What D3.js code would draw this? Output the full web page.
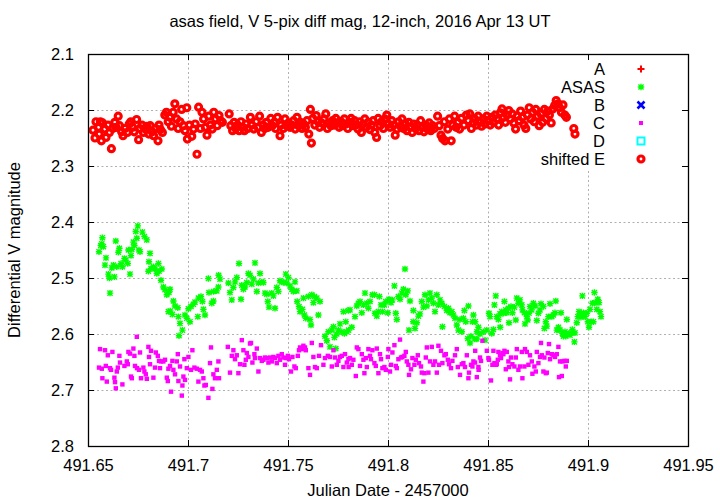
<!DOCTYPE html>
<html><head><meta charset="utf-8">
<script src="https://cdn.jsdelivr.net/npm/d3@7"></script>
<style>body{margin:0;background:#fff}svg{display:block}text{font-family:"Liberation Sans",Arial,sans-serif}</style>
</head><body><svg id="c" width="720" height="504"></svg>
<script>
const titleText = "asas field, V 5-pix diff mag, 12-inch, 2016 Apr 13 UT";
const xLabel = "Julian Date - 2457000";
const yLabel = "Differential V magnitude";
const xTicks = [491.65, 491.7, 491.75, 491.8, 491.85, 491.9, 491.95];
const xTickLabels = ["491.65", "491.7", "491.75", "491.8", "491.85", "491.9", "491.95"];
const yTicks = [2.1, 2.2, 2.3, 2.4, 2.5, 2.6, 2.7, 2.8];
const yTickLabels = ["2.1", "2.2", "2.3", "2.4", "2.5", "2.6", "2.7", "2.8"];
const seriesNames = ["A", "ASAS", "B", "C", "D", "shifted E"];
const seriesColors = ["#ff0000", "#00ff00", "#0000ff", "#ff00ff", "#00ffff", "#ff0000"];

// ASAS (green)
const asasJD = [491.6555,491.6564,491.6572,491.6569,491.6577,491.659,491.6585,491.6602,491.6607,491.661,491.6619,491.6627,491.6632,491.6639,491.6644,491.6652,491.6657,491.6665,491.6672,491.6682,491.6689,491.6699,491.6702,491.671,491.6715,491.6719,491.6727,491.6732,491.6739,491.6744,491.6749,491.6755,491.676,491.6772,491.6782,491.6794,491.681,491.6805,491.6802,491.6815,491.6827,491.6835,491.6844,491.6852,491.6855,491.6869,491.6865,491.6877,491.6885,491.6894,491.691,491.6905,491.6927,491.6935,491.6911,491.6902,491.6922,491.6952,491.6949,491.696,491.6972,491.6955,491.6985,491.6994,491.7002,491.701,491.7015,491.7027,491.7035,491.7052,491.7065,491.7072,491.7049,491.7077,491.7085,491.7102,491.7119,491.7127,491.7105,491.7128,491.7144,491.7152,491.7153,491.716,491.7202,491.721,491.7219,491.7227,491.7235,491.7244,491.7255,491.7265,491.7269,491.7277,491.7285,491.7294,491.7302,491.731,491.7319,491.7327,491.7335,491.7344,491.7352,491.736,491.7369,491.7377,491.7385,491.7394,491.7399,491.7405,491.7419,491.7427,491.7435,491.7444,491.7452,491.746,491.7469,491.7477,491.7489,491.7494,491.7502,491.751,491.7519,491.7527,491.7535,491.7544,491.7546,491.7555,491.756,491.7572,491.7577,491.7582,491.7589,491.7602,491.761,491.7615,491.7619,491.7627,491.7632,491.7644,491.7652,491.766,491.7685,491.7694,491.7702,491.771,491.7719,491.7727,491.7732,491.7739,491.7744,491.7752,491.776,491.7769,491.7777,491.7782,491.7789,491.7794,491.7802,491.7803,491.781,491.7819,491.7835,491.7844,491.7852,491.786,491.7869,491.7877,491.7885,491.7894,491.7902,491.791,491.7922,491.7932,491.7935,491.7944,491.7952,491.7957,491.7965,491.7972,491.7982,491.7989,491.7999,491.8005,491.8015,491.8022,491.8032,491.8039,491.8044,491.8052,491.806,491.8069,491.8077,491.8085,491.8089,491.8099,491.8105,491.811,491.8127,491.8135,491.8126,491.8144,491.8152,491.816,491.8169,491.8177,491.8185,491.8194,491.8202,491.821,491.8219,491.8227,491.8235,491.8244,491.8252,491.826,491.8269,491.8272,491.8282,491.8294,491.8302,491.831,491.8319,491.8327,491.8335,491.8344,491.8352,491.836,491.8369,491.8377,491.8382,491.8389,491.8399,491.8402,491.841,491.8415,491.8422,491.8427,491.8435,491.8444,491.8452,491.8436,491.8445,491.846,491.8477,491.8485,491.8494,491.8505,491.851,491.8519,491.8527,491.8532,491.8539,491.8544,491.8552,491.856,491.8561,491.8569,491.8577,491.8582,491.8589,491.8594,491.8602,491.8605,491.8615,491.8622,491.8632,491.8639,491.8644,491.8652,491.866,491.8669,491.8672,491.8682,491.8685,491.8694,491.8699,491.8705,491.871,491.8719,491.8727,491.8735,491.8744,491.8752,491.876,491.8765,491.8777,491.8782,491.8789,491.8794,491.8802,491.881,491.8819,491.8827,491.8835,491.8839,491.8844,491.8852,491.886,491.8865,491.8872,491.8877,491.8885,491.8889,491.8894,491.8902,491.891,491.8919,491.8922,491.8932,491.8935,491.8944,491.8949,491.8955,491.896,491.8965,491.8972,491.8977,491.8985,491.8994,491.8999,491.9005,491.901,491.9015,491.9022,491.9027,491.9032,491.9039,491.9044,491.9049,491.9055,491.906,491.9065];
const asasMag = [2.453,2.442,2.428,2.439,2.444,2.464,2.477,2.493,2.500,2.527,2.482,2.477,2.498,2.434,2.480,2.454,2.447,2.474,2.480,2.465,2.468,2.474,2.450,2.493,2.460,2.449,2.436,2.442,2.417,2.429,2.407,2.450,2.453,2.418,2.426,2.432,2.456,2.471,2.488,2.483,2.480,2.484,2.492,2.474,2.488,2.484,2.504,2.516,2.521,2.530,2.520,2.526,2.541,2.550,2.559,2.560,2.565,2.569,2.553,2.581,2.593,2.603,2.566,2.572,2.555,2.578,2.551,2.547,2.543,2.536,2.533,2.542,2.569,2.556,2.566,2.501,2.545,2.541,2.526,2.524,2.523,2.516,2.495,2.502,2.509,2.526,2.539,2.517,2.507,2.499,2.474,2.538,2.513,2.520,2.516,2.508,2.492,2.495,2.511,2.502,2.473,2.524,2.509,2.492,2.507,2.508,2.527,2.529,2.542,2.552,2.527,2.532,2.554,2.517,2.524,2.505,2.507,2.508,2.493,2.509,2.499,2.514,2.520,2.524,2.507,2.523,2.542,2.551,2.560,2.556,2.536,2.566,2.572,2.533,2.574,2.584,2.530,2.544,2.533,2.536,2.566,2.542,2.604,2.612,2.596,2.623,2.593,2.587,2.606,2.626,2.600,2.593,2.582,2.596,2.560,2.599,2.578,2.596,2.558,2.593,2.557,2.588,2.569,2.550,2.545,2.542,2.562,2.548,2.527,2.545,2.554,2.542,2.530,2.530,2.563,2.568,2.560,2.533,2.548,2.560,2.548,2.542,2.562,2.538,2.544,2.539,2.514,2.563,2.574,2.533,2.538,2.527,2.520,2.484,2.530,2.523,2.593,2.541,2.558,2.590,2.578,2.580,2.568,2.564,2.542,2.552,2.530,2.550,2.539,2.527,2.536,2.545,2.560,2.530,2.548,2.539,2.545,2.587,2.551,2.558,2.554,2.562,2.560,2.566,2.572,2.584,2.593,2.574,2.596,2.572,2.558,2.578,2.608,2.550,2.616,2.604,2.578,2.566,2.609,2.609,2.588,2.578,2.596,2.600,2.596,2.611,2.593,2.563,2.569,2.599,2.592,2.548,2.532,2.569,2.574,2.564,2.588,2.560,2.563,2.542,2.557,2.562,2.554,2.580,2.551,2.562,2.552,2.575,2.536,2.545,2.539,2.548,2.557,2.562,2.582,2.569,2.575,2.563,2.551,2.557,2.545,2.550,2.576,2.563,2.557,2.546,2.551,2.590,2.578,2.586,2.569,2.546,2.569,2.566,2.562,2.541,2.593,2.588,2.593,2.562,2.599,2.604,2.596,2.604,2.574,2.599,2.602,2.598,2.592,2.614,2.598,2.580,2.569,2.560,2.566,2.570,2.532,2.562,2.569,2.563,2.578,2.588,2.556,2.578,2.545,2.578,2.526,2.544,2.556,2.538,2.544,2.560,2.569];

// C (magenta)
const cJD = [491.6744,491.656,491.6585,491.6622,491.6599,491.6555,491.6569,491.6589,491.661,491.6615,491.6572,491.6594,491.6632,491.6635,491.6639,491.6649,491.6644,491.666,491.6657,491.6672,491.6682,491.6694,491.6699,491.6702,491.671,491.6719,491.6715,491.6727,491.6732,491.6735,491.6745,491.6755,491.676,491.6765,491.6777,491.6782,491.6789,491.6794,491.6802,491.6805,491.681,491.6815,491.6827,491.6835,491.6839,491.6849,491.6855,491.686,491.6865,491.6877,491.6885,491.6894,491.6899,491.6902,491.691,491.6915,491.6922,491.6927,491.6935,491.6944,491.6949,491.6952,491.696,491.6969,491.6972,491.6977,491.6982,491.6985,491.6994,491.7002,491.7015,491.7022,491.7032,491.7044,491.7052,491.706,491.7069,491.7077,491.7082,491.7089,491.7102,491.711,491.7115,491.7122,491.7127,491.7135,491.7144,491.7152,491.7155,491.7199,491.721,491.7219,491.7227,491.7235,491.7244,491.7252,491.726,491.7269,491.7277,491.7282,491.7289,491.7294,491.7302,491.731,491.7315,491.7322,491.7332,491.7335,491.7344,491.7352,491.736,491.7369,491.7377,491.7385,491.7394,491.7402,491.741,491.7419,491.7427,491.7435,491.7444,491.7452,491.746,491.7469,491.7477,491.7485,491.7489,491.7499,491.7505,491.7515,491.7522,491.7532,491.7539,491.7549,491.7555,491.756,491.7572,491.7577,491.7585,491.7589,491.7602,491.761,491.7619,491.7627,491.7635,491.7644,491.7655,491.7665,491.7677,491.7685,491.7699,491.771,491.7719,491.7727,491.7735,491.7744,491.7752,491.776,491.7769,491.7777,491.7785,491.7794,491.7802,491.7803,491.781,491.7819,491.7827,491.7839,491.7844,491.7852,491.786,491.7869,491.7877,491.7882,491.7889,491.7894,491.7902,491.791,491.7915,491.7922,491.7932,491.7939,491.7944,491.7952,491.796,491.7965,491.7972,491.7982,491.7989,491.7999,491.8002,491.801,491.8015,491.8022,491.8032,491.8039,491.8044,491.8052,491.806,491.8065,491.8072,491.8082,491.8089,491.8094,491.8102,491.8105,491.8115,491.8122,491.8132,491.8139,491.8149,491.8155,491.8165,491.8169,491.8177,491.8182,491.8189,491.8194,491.8202,491.821,491.8219,491.8227,491.8235,491.8244,491.8252,491.8255,491.8265,491.8272,491.8282,491.8289,491.8299,491.8305,491.8315,491.8322,491.8335,491.8344,491.8349,491.836,491.8369,491.8377,491.8385,491.8394,491.8402,491.8405,491.8415,491.8422,491.8427,491.8435,491.8444,491.8452,491.8436,491.8453,491.846,491.8465,491.8472,491.8494,491.8502,491.8505,491.8515,491.8522,491.8527,491.8532,491.8539,491.8544,491.8549,491.8552,491.856,491.8565,491.8572,491.8577,491.8582,491.8589,491.8594,491.8602,491.8605,491.861,491.8615,491.8622,491.8632,491.8639,491.8644,491.8652,491.866,491.8669,491.8672,491.8682,491.8685,491.8694,491.8702,491.871,491.8719,491.8722,491.8732,491.8739,491.8744,491.8752,491.876,491.8765,491.8769,491.8777,491.8782,491.8789,491.8794,491.8799,491.8805,491.881,491.8819,491.8827,491.8835,491.8844,491.8852,491.8855,491.886,491.8869,491.8872,491.8882,491.8889,491.8894];
const cMag = [2.605,2.627,2.629,2.632,2.638,2.660,2.662,2.657,2.661,2.664,2.679,2.685,2.678,2.686,2.697,2.660,2.667,2.651,2.639,2.690,2.657,2.649,2.654,2.632,2.635,2.679,2.676,2.626,2.639,2.657,2.661,2.664,2.633,2.679,2.660,2.667,2.672,2.680,2.623,2.641,2.654,2.630,2.678,2.660,2.633,2.639,2.648,2.661,2.649,2.649,2.646,2.678,2.684,2.662,2.657,2.703,2.648,2.664,2.672,2.649,2.636,2.684,2.658,2.710,2.692,2.676,2.645,2.682,2.661,2.641,2.664,2.629,2.660,2.662,2.685,2.664,2.667,2.679,2.692,2.691,2.714,2.652,2.624,2.698,2.672,2.679,2.664,2.649,2.679,2.623,2.669,2.639,2.629,2.645,2.638,2.670,2.654,2.611,2.629,2.655,2.646,2.634,2.641,2.617,2.616,2.651,2.636,2.643,2.626,2.667,2.643,2.648,2.646,2.642,2.643,2.651,2.642,2.649,2.641,2.643,2.652,2.639,2.646,2.636,2.642,2.655,2.643,2.639,2.645,2.667,2.641,2.658,2.661,2.639,2.629,2.624,2.627,2.621,2.624,2.629,2.661,2.673,2.616,2.641,2.659,2.661,2.639,2.620,2.655,2.643,2.639,2.641,2.658,2.629,2.642,2.655,2.648,2.641,2.639,2.659,2.636,2.651,2.645,2.659,2.643,2.655,2.646,2.675,2.624,2.627,2.657,2.636,2.646,2.670,2.643,2.659,2.627,2.639,2.645,2.629,2.652,2.657,2.626,2.670,2.636,2.645,2.661,2.659,2.664,2.641,2.627,2.667,2.655,2.633,2.620,2.657,2.661,2.645,2.610,2.642,2.641,2.639,2.632,2.649,2.655,2.673,2.663,2.643,2.655,2.646,2.638,2.652,2.658,2.669,2.685,2.670,2.642,2.624,2.669,2.649,2.623,2.655,2.649,2.669,2.621,2.655,2.630,2.652,2.638,2.636,2.646,2.654,2.661,2.648,2.638,2.627,2.659,2.673,2.654,2.652,2.659,2.638,2.679,2.669,2.655,2.658,2.649,2.651,2.677,2.659,2.630,2.664,2.642,2.648,2.612,2.630,2.643,2.646,2.683,2.655,2.630,2.652,2.655,2.654,2.646,2.632,2.638,2.643,2.634,2.636,2.630,2.663,2.632,2.649,2.659,2.681,2.642,2.654,2.658,2.642,2.627,2.664,2.658,2.632,2.679,2.658,2.627,2.632,2.655,2.638,2.649,2.671,2.658,2.667,2.632,2.652,2.641,2.616,2.638,2.667,2.642,2.670,2.669,2.634,2.618,2.645,2.636,2.638,2.641,2.636,2.623,2.677,2.649,2.675,2.649,2.648,2.658,2.648];

// shifted E (red)
const eJD = [491.6525,491.6535,491.654,491.6553,491.6556,491.6562,491.6567,491.6573,491.6584,491.659,491.66,491.6607,491.6617,491.6624,491.6634,491.6641,491.6651,491.6658,491.6668,491.6675,491.6685,491.6697,491.6706,491.6714,491.6723,491.6731,491.6743,491.6753,491.676,491.677,491.6777,491.6787,491.6794,491.6804,491.6811,491.6821,491.6828,491.6838,491.685,491.6855,491.6862,491.6872,491.6884,491.6892,491.6901,491.6909,491.6917,491.6926,491.6934,491.6943,491.6951,491.696,491.6968,491.6977,491.6985,491.6994,491.6997,491.7007,491.7019,491.7028,491.7036,491.7045,491.7053,491.7062,491.707,491.7078,491.7087,491.7095,491.7104,491.7112,491.7121,491.7129,491.7138,491.7146,491.7155,491.7163,491.7172,491.7206,491.7214,491.7223,491.7231,491.7239,491.7248,491.7256,491.7265,491.7273,491.7282,491.729,491.7299,491.7312,491.7319,491.7329,491.7341,491.735,491.7358,491.7367,491.7375,491.7384,491.7392,491.7401,491.7414,491.7421,491.7431,491.7438,491.7448,491.746,491.7465,491.7477,491.7485,491.7494,491.7502,491.7511,491.7519,491.7528,491.7536,491.7545,491.7553,491.7562,491.757,491.7578,491.7587,491.7595,491.7604,491.7612,491.7617,491.7624,491.7634,491.7641,491.7651,491.7658,491.7668,491.768,491.7689,491.7697,491.7706,491.7714,491.7723,491.7731,491.7739,491.7748,491.7756,491.7765,491.7773,491.7782,491.779,491.7799,491.7807,491.7816,491.7824,491.7833,491.7841,491.785,491.7858,491.7867,491.7875,491.7884,491.7892,491.7901,491.7909,491.7917,491.7926,491.7934,491.7943,491.7951,491.796,491.7968,491.7977,491.7985,491.7994,491.8002,491.8011,491.8019,491.8028,491.8036,491.8045,491.8053,491.8062,491.807,491.8078,491.8087,491.8095,491.8104,491.8112,491.8121,491.8129,491.8138,491.8146,491.8155,491.8163,491.8172,491.818,491.8189,491.8197,491.8206,491.8214,491.8223,491.8231,491.8248,491.8256,491.8265,491.8273,491.8282,491.8285,491.8299,491.8307,491.8316,491.8324,491.8333,491.8341,491.835,491.8358,491.8367,491.838,491.8392,491.8401,491.8409,491.8417,491.8426,491.8434,491.8443,491.8451,491.846,491.8468,491.8477,491.8485,491.8494,491.8502,491.8511,491.8519,491.8528,491.8536,491.8545,491.8553,491.8562,491.857,491.8578,491.8587,491.8595,491.8604,491.8612,491.8621,491.8629,491.8638,491.8646,491.8655,491.8663,491.8672,491.868,491.8689,491.8697,491.8706,491.8714,491.8723,491.8731,491.8739,491.8748,491.8756,491.8765,491.8773,491.8782,491.879,491.8799,491.8807,491.8816,491.8824,491.8833,491.8841,491.885,491.8858,491.8867,491.8875,491.8884,491.8892,491.8929,491.8935];
const eMag = [2.236,2.250,2.221,2.231,2.243,2.221,2.255,2.223,2.234,2.249,2.227,2.240,2.269,2.233,2.222,2.231,2.211,2.228,2.239,2.246,2.233,2.240,2.225,2.221,2.231,2.239,2.217,2.253,2.233,2.227,2.240,2.234,2.229,2.243,2.228,2.239,2.246,2.233,2.255,2.227,2.235,2.240,2.209,2.204,2.221,2.213,2.229,2.204,2.189,2.216,2.233,2.221,2.199,2.228,2.237,2.196,2.252,2.227,2.247,2.234,2.225,2.279,2.195,2.233,2.204,2.216,2.231,2.245,2.211,2.227,2.234,2.204,2.216,2.228,2.210,2.219,2.222,2.207,2.228,2.237,2.222,2.233,2.227,2.237,2.221,2.231,2.237,2.225,2.233,2.213,2.227,2.234,2.221,2.231,2.211,2.240,2.227,2.233,2.222,2.231,2.215,2.228,2.222,2.233,2.213,2.246,2.227,2.233,2.216,2.228,2.223,2.231,2.227,2.219,2.234,2.213,2.228,2.222,2.233,2.225,2.231,2.219,2.243,2.199,2.259,2.215,2.227,2.210,2.221,2.231,2.223,2.216,2.207,2.233,2.223,2.228,2.219,2.227,2.215,2.223,2.231,2.221,2.228,2.216,2.225,2.233,2.222,2.215,2.228,2.219,2.227,2.234,2.221,2.240,2.225,2.216,2.231,2.222,2.235,2.227,2.219,2.240,2.249,2.215,2.228,2.221,2.233,2.216,2.209,2.225,2.231,2.219,2.227,2.245,2.234,2.221,2.229,2.216,2.233,2.225,2.237,2.222,2.231,2.240,2.225,2.233,2.227,2.237,2.219,2.231,2.239,2.227,2.234,2.223,2.237,2.228,2.233,2.211,2.228,2.245,2.251,2.221,2.255,2.234,2.216,2.255,2.227,2.211,2.231,2.222,2.234,2.215,2.227,2.209,2.219,2.207,2.233,2.223,2.216,2.227,2.211,2.221,2.229,2.216,2.225,2.211,2.219,2.227,2.213,2.222,2.209,2.216,2.227,2.205,2.198,2.213,2.222,2.209,2.201,2.216,2.207,2.223,2.234,2.211,2.219,2.202,2.213,2.227,2.233,2.209,2.196,2.216,2.204,2.221,2.199,2.211,2.228,2.207,2.222,2.199,2.215,2.202,2.209,2.223,2.198,2.192,2.183,2.189,2.196,2.204,2.191,2.209,2.213,2.233,2.243];

const W = 720, H = 504;
const M = {left: 88, right: 688, top: 54, bottom: 446};
const svg = d3.select("#c");
const x = d3.scaleLinear().domain([491.65, 491.95]).range([M.left, M.right]);
const y = d3.scaleLinear().domain([2.1, 2.8]).range([M.top, M.bottom]);

// grid
const grid = svg.append("g").attr("stroke", "#b0b0b0").attr("stroke-width", 1).attr("stroke-dasharray", "2,2.5");
grid.selectAll(".gx").data(xTicks.slice(1, -1)).join("line")
  .attr("x1", d => Math.round(x(d)) + 0.5).attr("x2", d => Math.round(x(d)) + 0.5)
  .attr("y1", M.top).attr("y2", M.bottom);
grid.selectAll(".gy").data(yTicks.slice(1, -1)).join("line")
  .attr("y1", d => Math.round(y(d)) + 0.5).attr("y2", d => Math.round(y(d)) + 0.5)
  .attr("x1", M.left).attr("x2", M.right);

// key area blanks the grid
svg.append("rect").attr("x", 508).attr("y", M.top + 1).attr("width", M.right - 508 - 1).attr("height", 114).attr("fill", "#fff");

function asterisk(s) { return `M${-s},0L${s},0M0,${-s}L0,${s}M${-s*0.8},${-s*0.8}L${s*0.8},${s*0.8}M${-s*0.8},${s*0.8}L${s*0.8},${-s*0.8}`; }

const gData = svg.append("g");
gData.append("g").selectAll("path").data(d3.range(asasJD.length)).join("path")
  .attr("transform", i => `translate(${x(asasJD[i])},${y(asasMag[i])})`)
  .attr("d", asterisk(3.2)).attr("stroke", seriesColors[1]).attr("stroke-width", 1.4).attr("fill", "none");
gData.append("g").selectAll("rect").data(d3.range(cJD.length)).join("rect")
  .attr("x", i => x(cJD[i]) - 2.2).attr("y", i => y(cMag[i]) - 2.2)
  .attr("width", 4.4).attr("height", 4.4).attr("fill", seriesColors[3]);
gData.append("g").selectAll("circle").data(d3.range(eJD.length)).join("circle")
  .attr("cx", i => x(eJD[i])).attr("cy", i => y(eMag[i])).attr("r", 3)
  .attr("fill", "none").attr("stroke", seriesColors[5]).attr("stroke-width", 3.2);

// axes
const fontSize = 16.5;
const ax = svg.append("g");
ax.append("g").attr("transform", `translate(0,${M.bottom})`)
  .call(d3.axisBottom(x).tickValues(xTicks).tickSizeInner(-6).tickSizeOuter(0).tickPadding(13).tickFormat((d, i) => xTickLabels[i]));
ax.append("g").attr("transform", `translate(0,${M.top})`)
  .call(d3.axisTop(x).tickValues(xTicks).tickSizeInner(-6).tickSizeOuter(0).tickFormat(""));
ax.append("g").attr("transform", `translate(${M.left},0)`)
  .call(d3.axisLeft(y).tickValues(yTicks).tickSizeInner(-6).tickSizeOuter(0).tickPadding(14).tickFormat((d, i) => yTickLabels[i]));
ax.append("g").attr("transform", `translate(${M.right},0)`)
  .call(d3.axisRight(y).tickValues(yTicks).tickSizeInner(-6).tickSizeOuter(0).tickFormat(""));
ax.selectAll(".domain").remove();
ax.selectAll("line").attr("stroke", "#000");
ax.selectAll("text").attr("font-family", "Liberation Sans, Arial, sans-serif").attr("font-size", fontSize).attr("fill", "#000");
svg.append("rect").attr("x", M.left + 0.5).attr("y", M.top + 0.5).attr("width", M.right - M.left).attr("height", M.bottom - M.top)
  .attr("fill", "none").attr("stroke", "#000").attr("stroke-width", 1.3);

// legend
const lg = svg.append("g");
const legY0 = 69, legDY = 18, legTextX = 605, legMarkX = 641;
seriesNames.forEach((name, i) => {
  const cy = legY0 + i * legDY;
  lg.append("text").attr("x", legTextX).attr("y", cy + 6).attr("text-anchor", "end").attr("font-size", fontSize).text(name);
  const g = lg.append("g").attr("transform", `translate(${legMarkX},${cy})`);
  const c = seriesColors[i];
  if (i === 0) g.append("path").attr("d", "M-3.5,0L3.5,0M0,-3.5L0,3.5").attr("stroke", c).attr("stroke-width", 2);
  if (i === 1) g.append("path").attr("d", asterisk(3.2)).attr("stroke", c).attr("stroke-width", 1.4);
  if (i === 2) g.append("path").attr("d", "M-3.5,-3.5L3.5,3.5M-3.5,3.5L3.5,-3.5").attr("stroke", c).attr("stroke-width", 2.6);
  if (i === 3) g.append("rect").attr("x", -2).attr("y", -2).attr("width", 4).attr("height", 4).attr("fill", c);
  if (i === 4) g.append("rect").attr("x", -3.5).attr("y", -3.5).attr("width", 7).attr("height", 7).attr("fill", "none").attr("stroke", c).attr("stroke-width", 2);
  if (i === 5) g.append("circle").attr("r", 3).attr("fill", "none").attr("stroke", c).attr("stroke-width", 3.2);
});

// titles
svg.append("text").attr("x", 360).attr("y", 27).attr("text-anchor", "middle").attr("font-size", fontSize).text(titleText);
svg.append("text").attr("x", 388).attr("y", 496).attr("text-anchor", "middle").attr("font-size", fontSize).text(xLabel);
svg.append("text").attr("transform", "translate(20,250) rotate(-90)").attr("text-anchor", "middle").attr("font-size", fontSize).text(yLabel);
</script></body></html>
